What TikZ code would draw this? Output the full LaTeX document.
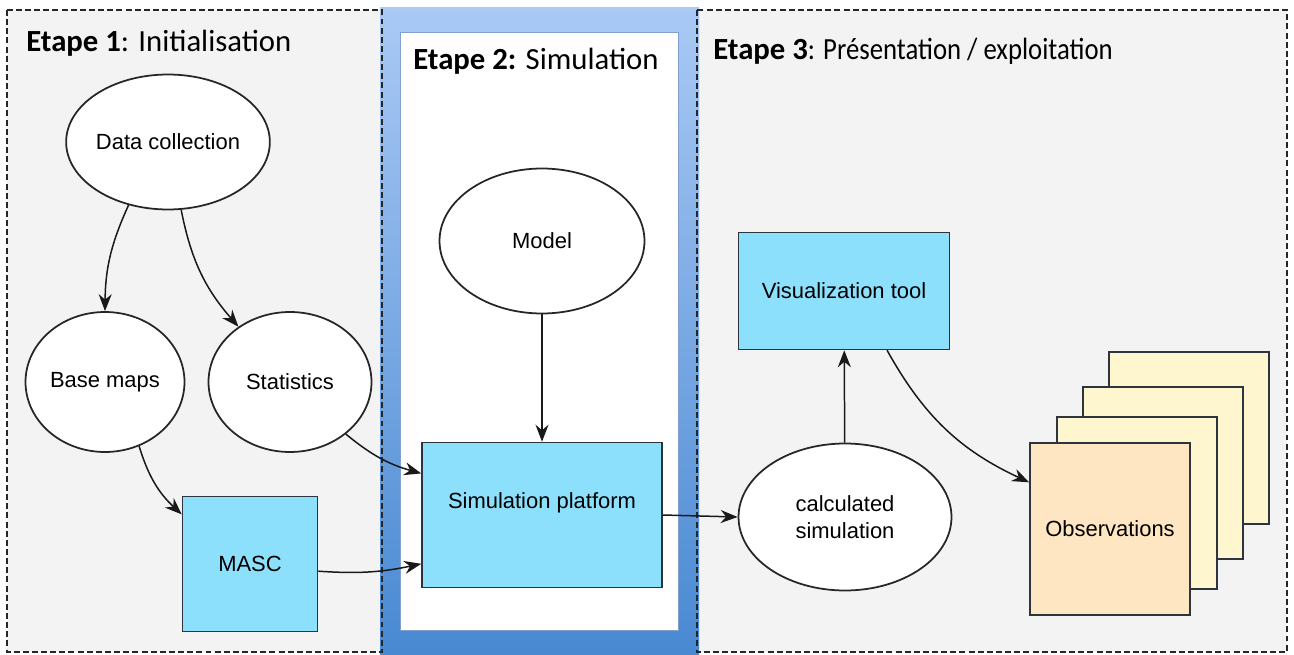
\documentclass[tikz,border=0pt]{standalone}
\usepackage{fontspec}
\setmainfont{Liberation Sans}
\newfontfamily\stagefont{Carlito}
\newfontfamily\stagenarrow[FakeStretch=0.87]{Carlito}
\usetikzlibrary{arrows.meta, positioning, shapes.geometric}
\definecolor{panelgray}{RGB}{243,243,243}
\definecolor{toolcyan}{RGB}{140,224,252}
\definecolor{obspeach}{RGB}{253,230,193}
\definecolor{obscream}{RGB}{253,246,206}
\definecolor{stagetop}{RGB}{170,201,245}
\definecolor{stagebottom}{RGB}{72,137,210}
\definecolor{stageedge}{RGB}{130,160,205}
\definecolor{edgegray}{RGB}{45,52,60}

\begin{document}
\begin{tikzpicture}[x=0.02cm, y=-0.02cm,
    panel/.style={draw=black!85, line width=0.9pt, dash pattern=on 3.4pt off 1.8pt},
    stage/.style={anchor=base west, inner sep=0pt, font=\stagefont\fontsize{17.5}{20}\selectfont},
    bubble/.style={ellipse, draw=black!85, line width=1pt, fill=white, align=center, inner sep=0pt, font=\fontsize{12.5}{15}\selectfont},
    tool/.style={rectangle, draw=edgegray, line width=0.9pt, fill=toolcyan, align=center, inner sep=0pt, font=\fontsize{12.5}{15}\selectfont},
    sheet/.style={rectangle, draw=edgegray, line width=1pt, fill=obscream, minimum width=3.2cm, minimum height=3.44cm, inner sep=0pt, font=\fontsize{12.5}{15}\selectfont},
    arrow/.style={-{Stealth[length=3.4mm, width=2.6mm]}, line width=0.85pt, color=black!90}
]
\useasboundingbox (0,0) rectangle (1294,655);

% panels
\fill[panelgray] (7,10) rectangle (382,652);
\fill[panelgray] (697,10) rectangle (1287,652);
\shade[top color=stagetop, bottom color=stagebottom] (380,8) rectangle (699,655);
\filldraw[fill=white, draw=stageedge, line width=0.5pt] (400,32) rectangle (678,630);
\draw[panel] (7,10) rectangle (382,652);
\draw[panel] (697,10) rectangle (1287,652);

\node[stage] (title1) at (26,52) {\textbf{Etape 1}: Initialisation};
\node[stage] (title2) at (413,70) {\textbf{Etape 2:} Simulation};
\node[stage] (title3) at (713,60) {\textbf{Etape 3}\stagenarrow: Présentation / exploitation};

% etape 1
\node[bubble, minimum width=3.6cm, minimum height=2.7cm] (collect) at (168,142) {Data collection};
\node[bubble, minimum width=3.18cm, minimum height=2.8cm] (basemaps) at (105,382) {Base maps};
\node[bubble, minimum width=3.26cm, minimum height=2.8cm] (stats) at (290,382) {Statistics};
\node[tool, minimum width=2.7cm, minimum height=2.7cm] (masc) at (250,564) {MASC};

% etape 2
\node[bubble, minimum width=4.1cm, minimum height=2.9cm] (model) at (542,241) {Model};
\node[tool, minimum width=4.8cm, minimum height=2.9cm, text depth=0.56cm] (platform) at (542,515) {Simulation platform};

% etape 3
\node[bubble, minimum width=4.26cm, minimum height=2.94cm] (calc) at (845,517) {calculated\\simulation};
\node[tool, minimum width=4.22cm, minimum height=2.34cm] (vis) at (844,291) {Visualization tool};
\node[sheet] (obs4) at (1189,438) {};
\node[sheet] (obs3) at (1163,473) {};
\node[sheet] (obs2) at (1137,503) {};
\node[sheet, fill=obspeach] (obs) at (1110,529) {Observations};

\draw[arrow] (collect.-122) to[bend right=12] (basemaps.north);
\draw[arrow] (collect.-79) to[bend right=15] (stats.133);
\draw[arrow] (basemaps.-62) to[bend right=15] (masc.144);
\draw[arrow] (stats.-43) to[bend right=12] (platform.161);
\draw[arrow] (masc.-6) to[bend right=8] (platform.-158);
\draw[arrow] (model) -- (platform);
\draw[arrow] (platform.east) -- (calc.west);
\draw[arrow] (calc) -- (vis);
\draw[arrow] (vis.-54) to[bend right=18] (obs.150);
\end{tikzpicture}
\end{document}
